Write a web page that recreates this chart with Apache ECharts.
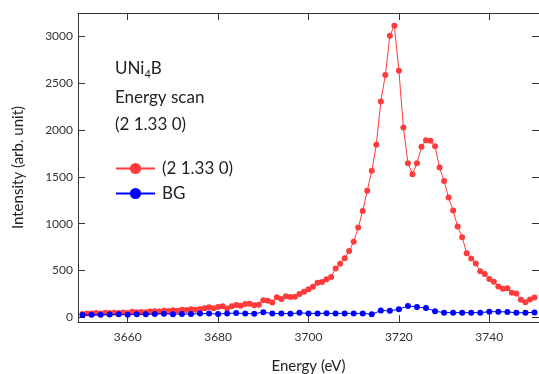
<!DOCTYPE html>
<html>
<head>
<meta charset="utf-8">
<script src="https://cdn.jsdelivr.net/npm/echarts@6/dist/echarts.min.js"></script>
<style>
html,body{margin:0;padding:0;background:#fff;}
#chart{width:539px;height:374px;}
</style>
</head>
<body>
<div id="chart"></div>
<script>
// ---- data ----
const sigEnergy = [3650,3651,3652,3653,3654,3655,3656,3657,3658,3659,3660,3661,3662,3663,3664,3665,3666,3667,3668,3669,3670,3671,3672,3673,3674,3675,3676,3677,3678,3679,3680,3681,3682,3683,3684,3685,3686,3687,3688,3689,3690,3691,3692,3693,3694,3695,3696,3697,3698,3699,3700,3701,3702,3703,3704,3705,3706,3707,3708,3709,3710,3711,3712,3713,3714,3715,3716,3717,3718,3719,3720,3721,3722,3723,3724,3725,3726,3727,3728,3729,3730,3731,3732,3733,3734,3735,3736,3737,3738,3739,3740,3741,3742,3743,3744,3745,3746,3747,3748,3749,3750];
const sigIntensity = [35,40,42,45,42,48,45,50,47,52,45,60,55,58,55,62,65,62,70,68,75,70,80,78,85,82,89,96,107,96,110,117,95,117,131,124,142,146,128,135,182,178,157,213,196,225,218,220,249,274,299,327,370,377,406,430,522,572,630,709,808,958,1136,1353,1564,1842,2305,2587,3007,3114,2633,2027,1646,1529,1646,1821,1892,1885,1828,1599,1457,1279,1140,969,855,684,628,575,492,462,410,380,330,305,310,262,255,188,160,190,212];
const bgEnergy = [3650,3652,3654,3656,3658,3660,3662,3664,3666,3668,3670,3672,3674,3676,3678,3680,3682,3684,3686,3688,3690,3692,3694,3696,3698,3700,3702,3704,3706,3708,3710,3712,3714,3716,3718,3720,3722,3724,3726,3728,3730,3732,3734,3736,3738,3740,3742,3744,3746,3748,3750];
const bgIntensity = [25,27,28,30,32,28,33,32,35,38,33,36,35,40,40,35,42,45,40,38,55,40,42,38,48,42,42,43,42,42,42,42,33,72,70,85,122,110,100,65,50,50,50,50,50,60,60,58,48,50,52];
const xTicks = [3660,3680,3700,3720,3740];
const yTicks = [0,500,1000,1500,2000,2500,3000];
const seriesNames = ['(2 1.33 0)','BG'];
const noteLines = ['UNi{s|4}B','Energy scan','(2 1.33 0)'];

const FONT = 'Lato, "Noto Sans", sans-serif';
const AX = '#333';

function pairs(xs, ys){ return xs.map((x,i)=>[x, ys[i]]); }
const plain = v => String(v);

const chart = echarts.init(document.getElementById('chart'), null, {renderer:'canvas'});

const tickCommon = {show:true, inside:true, length:7, lineStyle:{color:AX, width:1}};

chart.setOption({
  animation:false,
  backgroundColor:'#fff',
  grid:{left:78, right:0, top:13, bottom:52, containLabel:false, outerBoundsMode:'none'},
  xAxis:[{
    type:'value', min:3649, max:3751, position:'bottom',
    name:'Energy (eV)', nameLocation:'middle', nameGap:37,
    nameTextStyle:{fontFamily:FONT, fontSize:15, color:'#222'},
    axisLine:{show:true, onZero:false, lineStyle:{color:AX, width:1}},
    axisTick:Object.assign({customValues:xTicks}, tickCommon),
    axisLabel:{customValues:xTicks, formatter:plain, color:'#333', fontFamily:FONT, fontSize:12, margin:9},
    splitLine:{show:false}
  },{
    type:'value', min:3649, max:3751, position:'top',
    axisLine:{show:true, onZero:false, lineStyle:{color:AX, width:1}},
    axisTick:Object.assign({customValues:xTicks}, tickCommon),
    axisLabel:{show:false}, splitLine:{show:false}
  }],
  yAxis:[{
    type:'value', min:-50, max:3250, position:'left',
    name:'Intensity (arb. unit)', nameLocation:'middle', nameGap:52,
    nameTextStyle:{fontFamily:FONT, fontSize:15, color:'#222'},
    axisLine:{show:true, onZero:false, lineStyle:{color:AX, width:1}},
    axisTick:Object.assign({customValues:yTicks}, tickCommon),
    axisLabel:{customValues:yTicks, formatter:plain, color:'#333', fontFamily:FONT, fontSize:12, margin:5},
    splitLine:{show:false}
  },{
    type:'value', min:-50, max:3250, position:'right',
    axisLine:{show:true, onZero:false, lineStyle:{color:AX, width:1}},
    axisTick:Object.assign({customValues:yTicks}, tickCommon),
    axisLabel:{show:false}, splitLine:{show:false}
  }],
  legend:{
    orient:'vertical', left:110, top:155,
    itemWidth:39, itemHeight:14, itemGap:8,
    textStyle:{fontFamily:FONT, fontSize:17, color:'#222', padding:[0,0,0,2]},
    data:seriesNames
  },
  graphic:[
    {type:'text', left:115, top:60, style:{text:noteLines[0], fontFamily:FONT, fontSize:17, fill:'#222',
      rich:{s:{fontFamily:FONT, fontSize:11, fill:'#222', verticalAlign:'bottom', padding:[0,0,-3,0]}}}},
    {type:'text', left:115, top:89, style:{text:noteLines[1], fontFamily:FONT, fontSize:17, fill:'#222'}},
    {type:'text', left:115, top:116, style:{text:noteLines[2], fontFamily:FONT, fontSize:17, fill:'#222'}}
  ],
  series:[
    {name:seriesNames[0], type:'line', data:pairs(sigEnergy, sigIntensity),
     symbol:'circle', symbolSize:6, showAllSymbol:true,
     itemStyle:{color:'#ff3b3b'}, lineStyle:{color:'#ff3b3b', width:1}, z:3},
    {name:seriesNames[1], type:'line', data:pairs(bgEnergy, bgIntensity),
     symbol:'circle', symbolSize:6, showAllSymbol:true,
     itemStyle:{color:'#0000ff'}, lineStyle:{color:'#0000ff', width:1}, z:4}
  ]
});
</script>
</body>
</html>
